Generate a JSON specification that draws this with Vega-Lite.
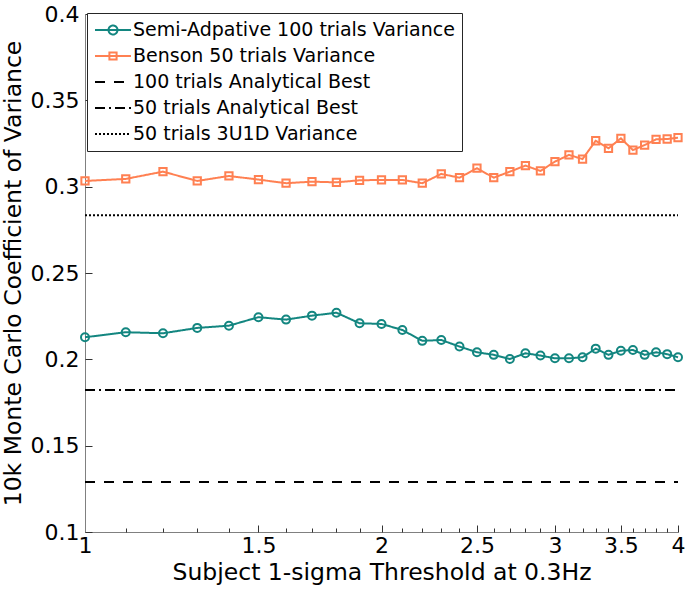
{
  "$schema": "https://vega.github.io/schema/vega-lite/v6.json",
  "width": 593,
  "height": 518,
  "autosize": {"type": "none"},
  "padding": {"left": 85, "top": 14, "right": 7, "bottom": 73},
  "background": "white",
  "config": {
    "view": {"stroke": null},
    "font": "DejaVu Sans",
    "axis": {
      "grid": false,
      "domainColor": "#808080",
      "domainWidth": 1,
      "labelColor": "black",
      "labelFont": "DejaVu Sans",
      "labelFontSize": 22,
      "titleFont": "DejaVu Sans",
      "titleFontSize": 23.5,
      "titleFontWeight": "normal",
      "titleColor": "black",
      "labelOverlap": false,
      "labelFlush": false
    }
  },
  "data": {
    "values": [
      {"series": "Semi-Adpative 100 trials Variance", "x": 1.0, "y": 0.2128},
      {"series": "Semi-Adpative 100 trials Variance", "x": 1.1, "y": 0.2157},
      {"series": "Semi-Adpative 100 trials Variance", "x": 1.2, "y": 0.2151},
      {"series": "Semi-Adpative 100 trials Variance", "x": 1.3, "y": 0.2182},
      {"series": "Semi-Adpative 100 trials Variance", "x": 1.4, "y": 0.2195},
      {"series": "Semi-Adpative 100 trials Variance", "x": 1.5, "y": 0.2244},
      {"series": "Semi-Adpative 100 trials Variance", "x": 1.6, "y": 0.2230},
      {"series": "Semi-Adpative 100 trials Variance", "x": 1.7, "y": 0.2253},
      {"series": "Semi-Adpative 100 trials Variance", "x": 1.8, "y": 0.2270},
      {"series": "Semi-Adpative 100 trials Variance", "x": 1.9, "y": 0.2209},
      {"series": "Semi-Adpative 100 trials Variance", "x": 2.0, "y": 0.2205},
      {"series": "Semi-Adpative 100 trials Variance", "x": 2.1, "y": 0.2170},
      {"series": "Semi-Adpative 100 trials Variance", "x": 2.2, "y": 0.2107},
      {"series": "Semi-Adpative 100 trials Variance", "x": 2.3, "y": 0.2112},
      {"series": "Semi-Adpative 100 trials Variance", "x": 2.4, "y": 0.2074},
      {"series": "Semi-Adpative 100 trials Variance", "x": 2.5, "y": 0.2041},
      {"series": "Semi-Adpative 100 trials Variance", "x": 2.6, "y": 0.2026},
      {"series": "Semi-Adpative 100 trials Variance", "x": 2.7, "y": 0.2002},
      {"series": "Semi-Adpative 100 trials Variance", "x": 2.8, "y": 0.2035},
      {"series": "Semi-Adpative 100 trials Variance", "x": 2.9, "y": 0.2022},
      {"series": "Semi-Adpative 100 trials Variance", "x": 3.0, "y": 0.2006},
      {"series": "Semi-Adpative 100 trials Variance", "x": 3.1, "y": 0.2006},
      {"series": "Semi-Adpative 100 trials Variance", "x": 3.2, "y": 0.2012},
      {"series": "Semi-Adpative 100 trials Variance", "x": 3.3, "y": 0.2062},
      {"series": "Semi-Adpative 100 trials Variance", "x": 3.4, "y": 0.2026},
      {"series": "Semi-Adpative 100 trials Variance", "x": 3.5, "y": 0.2050},
      {"series": "Semi-Adpative 100 trials Variance", "x": 3.6, "y": 0.2054},
      {"series": "Semi-Adpative 100 trials Variance", "x": 3.7, "y": 0.2026},
      {"series": "Semi-Adpative 100 trials Variance", "x": 3.8, "y": 0.2041},
      {"series": "Semi-Adpative 100 trials Variance", "x": 3.9, "y": 0.2030},
      {"series": "Semi-Adpative 100 trials Variance", "x": 4.0, "y": 0.2012},
      {"series": "Benson 50 trials Variance", "x": 1.0, "y": 0.3033},
      {"series": "Benson 50 trials Variance", "x": 1.1, "y": 0.3045},
      {"series": "Benson 50 trials Variance", "x": 1.2, "y": 0.3087},
      {"series": "Benson 50 trials Variance", "x": 1.3, "y": 0.3033},
      {"series": "Benson 50 trials Variance", "x": 1.4, "y": 0.3062},
      {"series": "Benson 50 trials Variance", "x": 1.5, "y": 0.3041},
      {"series": "Benson 50 trials Variance", "x": 1.6, "y": 0.3020},
      {"series": "Benson 50 trials Variance", "x": 1.7, "y": 0.3029},
      {"series": "Benson 50 trials Variance", "x": 1.8, "y": 0.3025},
      {"series": "Benson 50 trials Variance", "x": 1.9, "y": 0.3037},
      {"series": "Benson 50 trials Variance", "x": 2.0, "y": 0.3039},
      {"series": "Benson 50 trials Variance", "x": 2.1, "y": 0.3039},
      {"series": "Benson 50 trials Variance", "x": 2.2, "y": 0.3020},
      {"series": "Benson 50 trials Variance", "x": 2.3, "y": 0.3074},
      {"series": "Benson 50 trials Variance", "x": 2.4, "y": 0.3052},
      {"series": "Benson 50 trials Variance", "x": 2.5, "y": 0.3107},
      {"series": "Benson 50 trials Variance", "x": 2.6, "y": 0.3052},
      {"series": "Benson 50 trials Variance", "x": 2.7, "y": 0.3087},
      {"series": "Benson 50 trials Variance", "x": 2.8, "y": 0.3122},
      {"series": "Benson 50 trials Variance", "x": 2.9, "y": 0.3091},
      {"series": "Benson 50 trials Variance", "x": 3.0, "y": 0.3145},
      {"series": "Benson 50 trials Variance", "x": 3.1, "y": 0.3184},
      {"series": "Benson 50 trials Variance", "x": 3.2, "y": 0.3160},
      {"series": "Benson 50 trials Variance", "x": 3.3, "y": 0.3266},
      {"series": "Benson 50 trials Variance", "x": 3.4, "y": 0.3222},
      {"series": "Benson 50 trials Variance", "x": 3.5, "y": 0.3280},
      {"series": "Benson 50 trials Variance", "x": 3.6, "y": 0.3212},
      {"series": "Benson 50 trials Variance", "x": 3.7, "y": 0.3241},
      {"series": "Benson 50 trials Variance", "x": 3.8, "y": 0.3274},
      {"series": "Benson 50 trials Variance", "x": 3.9, "y": 0.3276},
      {"series": "Benson 50 trials Variance", "x": 4.0, "y": 0.3284},
      {"series": "100 trials Analytical Best", "x": 1.0, "y": 0.129},
      {"series": "100 trials Analytical Best", "x": 4.0, "y": 0.129},
      {"series": "50 trials Analytical Best", "x": 1.0, "y": 0.1823},
      {"series": "50 trials Analytical Best", "x": 4.0, "y": 0.1823},
      {"series": "50 trials 3U1D Variance", "x": 1.0, "y": 0.2835},
      {"series": "50 trials 3U1D Variance", "x": 4.0, "y": 0.2835}
    ]
  },
  "resolve": {"axis": {"x": "independent", "y": "independent"}},
  "layer": [
    {
      "mark": {"type": "line", "strokeWidth": 2},
      "encoding": {
        "x": {
          "field": "x",
          "type": "quantitative",
          "scale": {"type": "log", "domain": [1, 4], "nice": false},
          "axis": {
            "orient": "bottom",
            "title": "Subject 1-sigma Threshold at 0.3Hz",
            "values": [1, 1.5, 2, 2.5, 3, 3.5, 4],
            "format": "~g",
            "ticks": false,
            "labelPadding": 3,
            "titlePadding": 4
          }
        },
        "y": {
          "field": "y",
          "type": "quantitative",
          "scale": {"domain": [0.1, 0.4], "nice": false, "zero": false},
          "axis": {
            "orient": "left",
            "title": "10k Monte Carlo Coefficient of Variance",
            "values": [0.1, 0.15, 0.2, 0.25, 0.3, 0.35, 0.4],
            "format": "~g",
            "ticks": false,
            "labelPadding": 6,
            "titlePadding": 5
          }
        },
        "color": {
          "field": "series",
          "type": "nominal",
          "scale": {
            "domain": ["Semi-Adpative 100 trials Variance", "Benson 50 trials Variance", "100 trials Analytical Best", "50 trials Analytical Best", "50 trials 3U1D Variance"],
            "range": ["#138680", "#ff8052", "black", "black", "black"]
          },
          "legend": {
            "title": null,
            "orient": "none",
            "legendX": 2,
            "legendY": -1,
            "strokeColor": "#262626",
            "fillColor": "white",
            "padding": 7,
            "labelFont": "DejaVu Sans",
            "labelFontSize": 19,
            "labelColor": "black",
            "labelLimit": 600,
            "labelOffset": 19,
            "symbolSize": 324,
            "symbolStrokeWidth": 2,
            "rowPadding": 6,
            "encode": {
              "symbols": {
                "update": {
                  "shape": {"signal": "datum.value == 'Semi-Adpative 100 trials Variance' ? 'M-1,0H3M1.5,0A0.5,0.5 0 1,1 0.5,0A0.5,0.5 0 1,1 1.5,0' : datum.value == 'Benson 50 trials Variance' ? 'M-1,0H3M0.6,-0.4H1.4V0.4H0.6Z' : 'M-1,0H3'"},
                  "strokeDash": {"signal": "datum.value == '100 trials Analytical Best' ? [10, 9] : datum.value == '50 trials Analytical Best' ? [10, 4, 2, 4] : datum.value == '50 trials 3U1D Variance' ? [2, 2] : [1, 0]"},
                  "fill": {"value": "transparent"},
                  "strokeWidth": {"value": 2},
                  "size": {"value": 324}
                }
              }
            }
          }
        },
        "strokeDash": {
          "field": "series",
          "type": "nominal",
          "scale": {
            "domain": ["Semi-Adpative 100 trials Variance", "Benson 50 trials Variance", "100 trials Analytical Best", "50 trials Analytical Best", "50 trials 3U1D Variance"],
            "range": [[1, 0], [1, 0], [10, 9], [10, 4, 2, 4], [2, 2]]
          },
          "legend": null
        }
      }
    },
    {
      "transform": [{"filter": {"field": "series", "equal": "Semi-Adpative 100 trials Variance"}}],
      "mark": {"type": "point", "shape": "circle", "filled": false, "color": "#138680", "strokeWidth": 2, "size": 64, "opacity": 1},
      "encoding": {
        "x": {
          "field": "x",
          "type": "quantitative",
          "axis": {
            "orient": "top",
            "offset": -518,
            "title": null,
            "labels": false,
            "domain": false,
            "ticks": true,
            "tickColor": "#333333",
            "tickWidth": 1,
            "tickSize": {"condition": {"test": "abs(datum.value * 2 - round(datum.value * 2)) < 0.01", "value": 7}, "value": 4},
            "values": [1, 1.1, 1.2, 1.3, 1.4, 1.5, 1.6, 1.7, 1.8, 1.9, 2, 2.1, 2.2, 2.3, 2.4, 2.5, 2.6, 2.7, 2.8, 2.9, 3, 3.1, 3.2, 3.3, 3.4, 3.5, 3.6, 3.7, 3.8, 3.9, 4]
          }
        },
        "y": {
          "field": "y",
          "type": "quantitative",
          "axis": {
            "orient": "right",
            "offset": -593,
            "title": null,
            "labels": false,
            "domain": false,
            "ticks": true,
            "tickColor": "#333333",
            "tickWidth": 1,
            "tickSize": 7,
            "values": [0.1, 0.15, 0.2, 0.25, 0.3, 0.35, 0.4]
          }
        }
      }
    },
    {
      "transform": [{"filter": {"field": "series", "equal": "Benson 50 trials Variance"}}],
      "mark": {"type": "point", "shape": "square", "filled": false, "color": "#ff8052", "strokeWidth": 2, "size": 53, "opacity": 1},
      "encoding": {
        "x": {"field": "x", "type": "quantitative", "axis": null},
        "y": {"field": "y", "type": "quantitative", "axis": null}
      }
    }
  ]
}
